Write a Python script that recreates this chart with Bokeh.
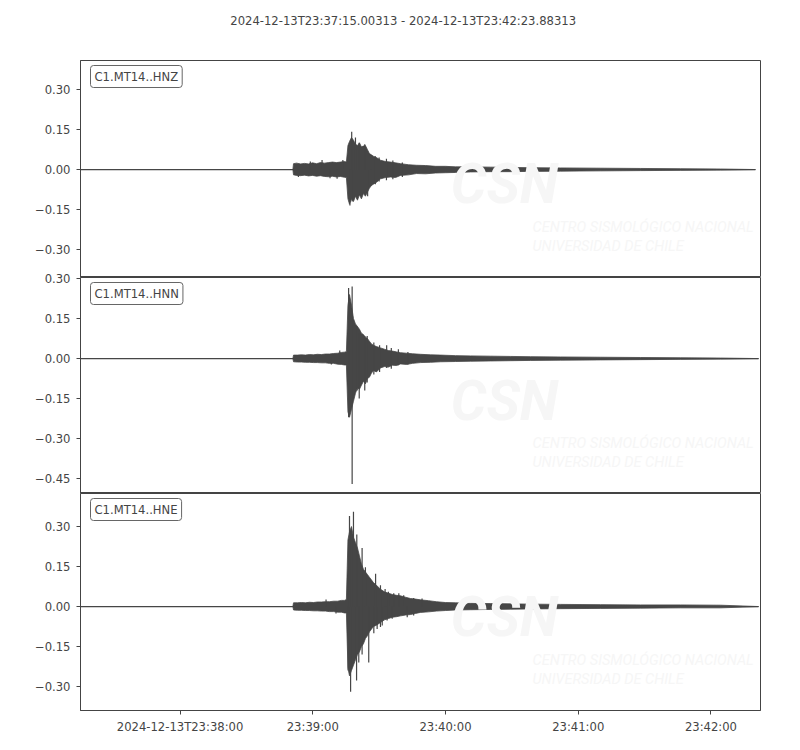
from bokeh.plotting import figure
from bokeh.models import Range1d, FixedTicker, Label
from bokeh.layouts import column
from bokeh.embed import file_html
from bokeh.resources import INLINE

# ---------------- data (time in seconds after 2024-12-13T23:37:00) ----------------
title_text = "2024-12-13T23:37:15.00313  -  2024-12-13T23:42:23.88313"
channels = ["C1.MT14..HNZ", "C1.MT14..HNN", "C1.MT14..HNE"]
x_start = 15.0
x_end = 322.4
trace_start = [15.0, 15.0, 15.0]
trace_end = [320.1, 321.5, 321.5]
x_tick_vals = [60, 120, 180, 240, 300]
x_tick_labels = ["2024-12-13T23:38:00", "23:39:00", "23:40:00", "23:41:00", "23:42:00"]
y_ranges = [(-0.405, 0.409), (-0.506, 0.304), (-0.390, 0.424)]
y_ticks = [[-0.30, -0.15, 0.0, 0.15, 0.30],
           [-0.45, -0.30, -0.15, 0.0, 0.15, 0.30],
           [-0.30, -0.15, 0.0, 0.15, 0.30]]

# envelope (upper / lower peaks)
t_hnz = [111.0, 111.3, 112.7, 114.5, 116.3, 118.1, 119.9, 121.7, 123.5, 125.3, 127.1, 128.9,
         130.7, 132.5, 134.3, 135.2, 135.9, 136.6, 137.5, 138.4, 139.3, 140.2, 141.1, 142.0,
         142.9, 143.8, 144.7, 145.6, 146.5, 147.4, 148.8, 150.6, 152.9, 155.1, 157.4, 159.7,
         163.3, 166.9, 171.0, 175.5, 180.0, 184.5, 191.3, 200.3, 209.3, 218.4, 232.0, 250.1,
         268.2, 286.3, 304.3, 320.1]
up_hnz = [0.0, 0.022, 0.024, 0.021, 0.023, 0.021, 0.025, 0.022, 0.026, 0.024, 0.026, 0.028,
          0.026, 0.028, 0.030, 0.028, 0.090, 0.105, 0.120, 0.110, 0.095, 0.090, 0.100, 0.085,
          0.088, 0.090, 0.075, 0.060, 0.055, 0.050, 0.045, 0.035, 0.030, 0.028, 0.025, 0.022,
          0.018, 0.016, 0.015, 0.012, 0.012, 0.010, 0.010, 0.009, 0.008, 0.007, 0.006, 0.005,
          0.004, 0.003, 0.002, 0.0]
lo_hnz = [0.0, -0.020, -0.022, -0.023, -0.021, -0.024, -0.022, -0.025, -0.023, -0.026, -0.027, -0.025,
          -0.028, -0.026, -0.029, -0.030, -0.110, -0.130, -0.110, -0.120, -0.100, -0.115, -0.095, -0.110,
          -0.090, -0.100, -0.085, -0.070, -0.060, -0.055, -0.048, -0.035, -0.030, -0.028, -0.030, -0.022,
          -0.020, -0.015, -0.016, -0.013, -0.012, -0.011, -0.009, -0.008, -0.008, -0.007, -0.006, -0.005,
          -0.004, -0.003, -0.002, 0.0]

t_hnn = [111.0, 111.3, 113.1, 114.9, 116.7, 118.5, 120.3, 122.1, 123.9, 125.7, 127.5, 129.4,
         131.2, 133.0, 134.3, 135.2, 135.9, 136.6, 137.5, 138.4, 139.3, 140.2, 141.1, 142.0,
         142.9, 143.8, 144.7, 145.6, 146.5, 147.4, 148.8, 150.6, 152.4, 154.2, 156.0, 157.9,
         159.7, 162.4, 165.1, 168.7, 173.2, 177.7, 184.5, 191.3, 200.3, 209.3, 218.4, 232.0,
         250.1, 268.2, 286.3, 304.3, 321.5]
up_hnn = [0.0, 0.013, 0.013, 0.014, 0.013, 0.015, 0.014, 0.016, 0.015, 0.017, 0.017, 0.019,
          0.020, 0.023, 0.024, 0.026, 0.200, 0.240, 0.200, 0.150, 0.130, 0.120, 0.110, 0.095,
          0.090, 0.080, 0.075, 0.065, 0.055, 0.050, 0.045, 0.040, 0.035, 0.030, 0.028, 0.025,
          0.022, 0.020, 0.018, 0.016, 0.014, 0.013, 0.011, 0.010, 0.009, 0.008, 0.007, 0.006,
          0.005, 0.004, 0.003, 0.002, 0.0]
lo_hnn = [0.0, -0.012, -0.013, -0.013, -0.014, -0.014, -0.015, -0.015, -0.016, -0.016, -0.018, -0.018,
          -0.021, -0.022, -0.024, -0.024, -0.200, -0.220, -0.190, -0.160, -0.130, -0.110, -0.115, -0.100,
          -0.085, -0.095, -0.075, -0.070, -0.055, -0.045, -0.050, -0.035, -0.030, -0.032, -0.025, -0.026,
          -0.020, -0.022, -0.018, -0.015, -0.014, -0.012, -0.011, -0.010, -0.009, -0.008, -0.007, -0.006,
          -0.005, -0.004, -0.003, -0.002, 0.0]

t_hne = [111.0, 111.3, 113.1, 114.9, 116.7, 118.5, 120.3, 122.1, 123.9, 125.7, 127.5, 129.4,
         131.2, 133.0, 134.3, 135.2, 135.9, 136.6, 137.5, 138.4, 139.3, 140.2, 141.1, 142.0,
         142.9, 143.8, 144.7, 145.6, 146.5, 147.4, 148.8, 150.6, 152.4, 154.2, 156.0, 157.9,
         159.7, 161.9, 164.2, 166.4, 168.7, 172.3, 175.9, 180.0, 184.5, 191.3, 200.3, 209.3,
         218.4, 232.0, 250.1, 268.2, 286.3, 304.3, 321.5]
up_hne = [0.0, 0.014, 0.014, 0.015, 0.014, 0.016, 0.015, 0.017, 0.017, 0.018, 0.018, 0.020,
          0.020, 0.023, 0.023, 0.026, 0.250, 0.280, 0.300, 0.260, 0.240, 0.220, 0.190, 0.160,
          0.140, 0.130, 0.120, 0.110, 0.100, 0.090, 0.080, 0.065, 0.055, 0.050, 0.045, 0.042,
          0.040, 0.035, 0.030, 0.028, 0.025, 0.022, 0.018, 0.015, 0.014, 0.012, 0.011, 0.010,
          0.009, 0.008, 0.007, 0.006, 0.006, 0.005, 0.0]
lo_hne = [0.0, -0.013, -0.014, -0.014, -0.015, -0.015, -0.016, -0.016, -0.017, -0.017, -0.019, -0.019,
          -0.021, -0.021, -0.024, -0.024, -0.230, -0.260, -0.240, -0.220, -0.200, -0.180, -0.170, -0.150,
          -0.140, -0.120, -0.110, -0.095, -0.085, -0.075, -0.070, -0.060, -0.050, -0.045, -0.040, -0.038,
          -0.035, -0.032, -0.030, -0.026, -0.022, -0.020, -0.017, -0.015, -0.013, -0.012, -0.011, -0.010,
          -0.009, -0.008, -0.007, -0.006, -0.005, -0.005, 0.0]

# individual peaks that stick out of the envelope
spike_t_hnz = [113.5, 118.9, 124.2, 127.8, 131.0, 133.6, 136.8, 137.6, 137.8, 139.3, 141.0, 143.5,
               144.8, 146.5, 148.3, 150.0, 153.3, 156.2, 160.5]
spike_lo_hnz = [-0.028, 0.0, 0.0, -0.033, -0.035, 0.0, -0.135, 0.0, -0.120, 0.0, 0.0, 0.0,
                -0.100, -0.060, -0.055, -0.045, -0.040, -0.036, -0.028]
spike_hi_hnz = [0.0, 0.030, 0.036, 0.0, 0.0, 0.036, 0.0, 0.142, 0.0, 0.120, 0.100, 0.095,
                0.0, 0.0, 0.050, 0.045, 0.040, 0.034, 0.026]

spike_t_hnn = [128.4, 132.2, 136.2, 137.8, 140.1, 141.0, 143.5, 144.6, 147.6, 150.2, 153.4,
               155.5, 158.7, 163.0]
spike_lo_hnn = [-0.022, 0.0, -0.220, -0.470, -0.120, -0.150, -0.120, -0.090, -0.060, -0.050, -0.035,
                -0.038, -0.025, -0.022]
spike_hi_hnn = [0.0, 0.030, 0.265, 0.270, 0.120, 0.093, 0.085, 0.085, 0.060, 0.050, 0.050,
                0.040, 0.035, 0.025]

spike_t_hne = [126.0, 130.5, 136.0, 136.6, 137.1, 138.4, 139.8, 139.9, 140.8, 142.3, 143.8, 145.3,
               147.6, 148.4, 149.1, 150.6, 151.4, 152.7, 153.6, 154.2, 155.9, 156.6, 158.9, 161.1,
               162.7, 165.6, 169.4]
spike_lo_hne = [0.0, -0.026, -0.240, 0.0, -0.320, 0.0, -0.277, 0.0, -0.210, -0.180, 0.0, -0.210,
                -0.100, 0.0, -0.084, -0.077, -0.071, 0.0, -0.052, 0.0, -0.046, 0.0, 0.0, 0.0,
                -0.040, -0.034, 0.0]
spike_hi_hne = [0.026, 0.0, 0.0, 0.340, 0.0, 0.356, 0.0, 0.270, 0.0, 0.220, 0.147, 0.0,
                0.0, 0.123, 0.0, 0.080, 0.0, 0.066, 0.0, 0.055, 0.0, 0.050, 0.050, 0.042,
                0.0, 0.032, 0.030]

env_t = [t_hnz, t_hnn, t_hne]
env_up = [up_hnz, up_hnn, up_hne]
env_lo = [lo_hnz, lo_hnn, lo_hne]
spk_t = [spike_t_hnz, spike_t_hnn, spike_t_hne]
spk_lo = [spike_lo_hnz, spike_lo_hnn, spike_lo_hne]
spk_hi = [spike_hi_hnz, spike_hi_hnn, spike_hi_hne]

# ---------------- styling ----------------
FONT = "DejaVu Sans"
FS = "11.6px"
TXT = "#444444"
AX = "#444444"
WAVE = "#464646"
WM = "#f6f6f6"
FRAME_W = 680
FRAME_H = [217, 216, 217]
OVERLAP = 8
TOTAL_W = 80 + FRAME_W + 36
HEAD_H = 52

x_range = Range1d(x_start, x_end)


def fmt(v):
    s = f"{v:.2f}"
    return s.replace("-", "\u2212")


# header strip carrying the time-span title
head = figure(output_backend="svg", toolbar_location=None, width=TOTAL_W, height=HEAD_H,
              min_border=0, x_range=Range1d(0, TOTAL_W), y_range=Range1d(0, HEAD_H))
head.axis.visible = False
head.grid.visible = False
head.outline_line_color = None
head.background_fill_color = "white"
head.border_fill_color = "white"
head.add_layout(Label(x=TOTAL_W / 2 - 16, y=HEAD_H - 20, text=title_text, text_align="center",
                      text_baseline="middle", text_font=FONT, text_font_size=FS,
                      text_color=TXT))

figs = [head]
for i in range(3):
    top = OVERLAP
    bottom = 36 if i == 2 else 0
    y0, y1 = y_ranges[i]
    p = figure(output_backend="svg", toolbar_location=None,
               frame_width=FRAME_W, frame_height=FRAME_H[i],
               min_border_left=80, min_border_right=36,
               min_border_top=top, min_border_bottom=bottom,
               x_range=x_range, y_range=Range1d(y0, y1))
    if i > 0:
        p.margin = (-OVERLAP, 0, 0, 0)
        p.border_fill_alpha = 0
    else:
        p.border_fill_color = "white"
    p.background_fill_color = "white"
    p.outline_line_color = AX
    p.outline_line_width = 1
    p.grid.visible = False

    # faint watermark
    def xp(px):
        return x_start + (px - 80) / 680.0 * (x_end - x_start)

    def yf(f):
        return y1 - f * (y1 - y0)

    p.add_layout(Label(x=xp(504), y=yf(0.57), text="CSN", text_align="center",
                       text_baseline="middle", text_font="Roboto", text_font_style="bold italic",
                       text_font_size="56px", text_color=WM))
    p.add_layout(Label(x=xp(532), y=yf(0.77), text="CENTRO SISMOLÓGICO NACIONAL",
                       text_align="left", text_baseline="middle", text_font="Roboto",
                       text_font_style="italic", text_font_size="14.5px", text_color=WM))
    p.add_layout(Label(x=xp(532), y=yf(0.855), text="UNIVERSIDAD DE CHILE",
                       text_align="left", text_baseline="middle", text_font="Roboto",
                       text_font_style="italic", text_font_size="14.5px", text_color=WM))

    # waveform
    p.line([trace_start[i], trace_end[i]], [0.0, 0.0], line_color=WAVE, line_width=1.2)
    p.varea(x=env_t[i], y1=env_lo[i], y2=env_up[i], fill_color=WAVE)
    p.line(env_t[i], env_up[i], line_color=WAVE, line_width=0.8)
    p.line(env_t[i], env_lo[i], line_color=WAVE, line_width=0.8)
    p.segment(x0=spk_t[i], y0=spk_lo[i], x1=spk_t[i], y1=spk_hi[i],
              line_color=WAVE, line_width=1.2)

    # channel label
    p.add_layout(Label(x=x_start, y=y1, x_offset=10, y_offset=-5, text=channels[i],
                       text_align="left", text_baseline="top", text_font=FONT,
                       text_font_size=FS, text_color=TXT,
                       background_fill_color="white", border_line_color="#666666",
                       border_line_width=1, padding=4, border_radius=3))

    # y axis
    ya = p.yaxis[0]
    ya.ticker = FixedTicker(ticks=y_ticks[i])
    ya.major_label_overrides = {v: fmt(v) for v in y_ticks[i]}
    ya.minor_tick_line_color = None
    ya.major_tick_in = 0
    ya.major_tick_out = 4
    ya.axis_line_color = AX
    ya.major_tick_line_color = AX
    ya.major_label_text_font = FONT
    ya.major_label_text_font_size = FS
    ya.major_label_text_color = TXT
    ya.major_label_standoff = 6

    xa = p.xaxis[0]
    if i < 2:
        xa.visible = False
    else:
        xa.ticker = FixedTicker(ticks=x_tick_vals)
        xa.major_label_overrides = dict(zip(x_tick_vals, x_tick_labels))
        xa.minor_tick_line_color = None
        xa.major_tick_in = 0
        xa.major_tick_out = 4
        xa.axis_line_color = AX
        xa.major_tick_line_color = AX
        xa.major_label_text_font = FONT
        xa.major_label_text_font_size = FS
        xa.major_label_text_color = TXT
        xa.major_label_standoff = 5
    figs.append(p)

layout = column(*figs, spacing=0)
open("out.html", "w").write(file_html(layout, INLINE))
